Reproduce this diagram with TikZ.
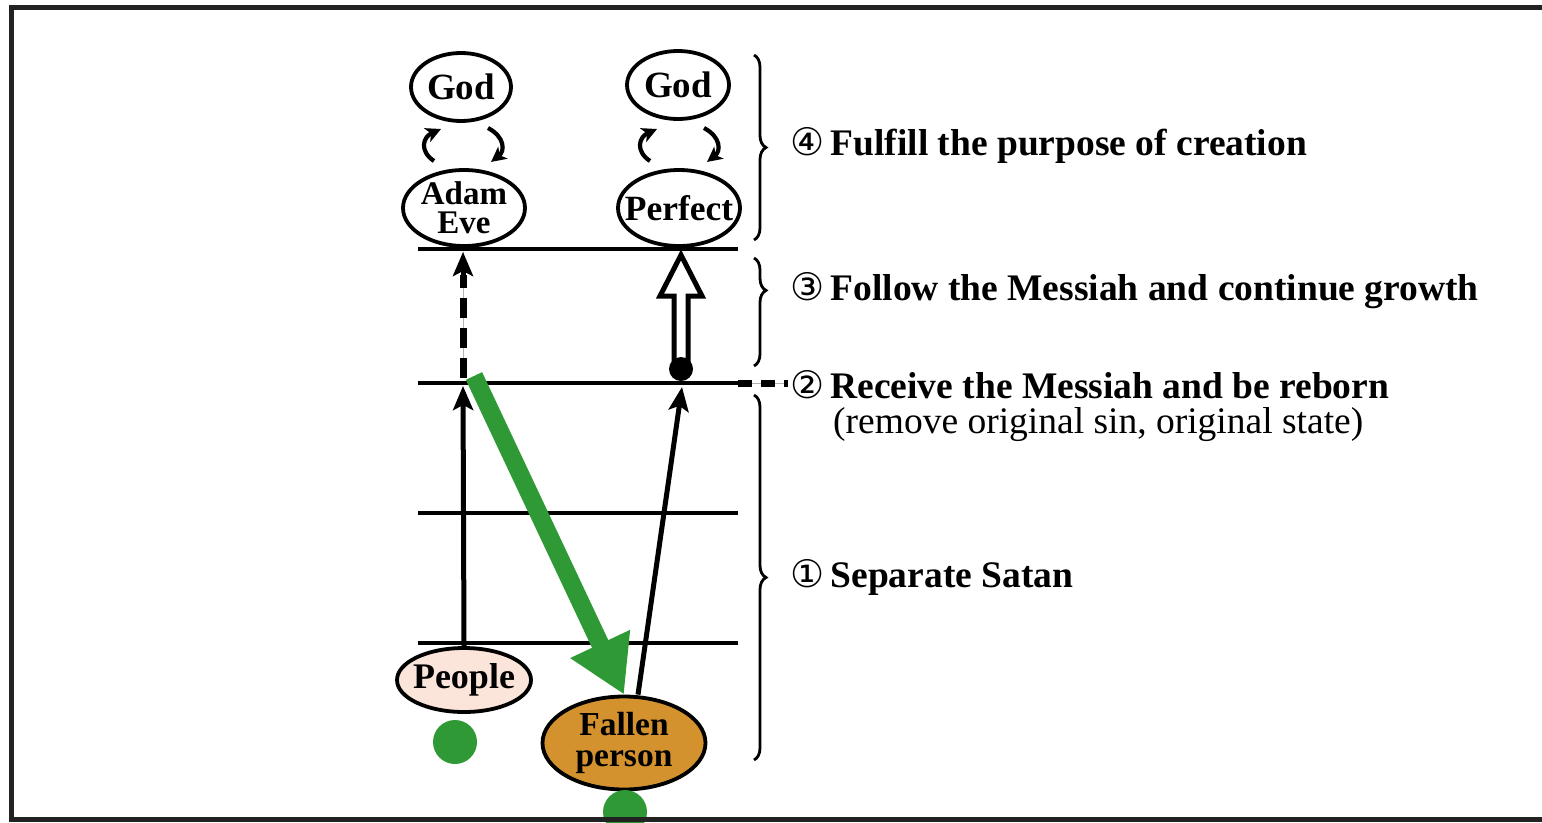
\documentclass[tikz,border=0pt]{standalone}
\usepackage{fontspec}
\setmainfont{Liberation Serif}
\newfontfamily\dejavu{DejaVu Sans}
\usetikzlibrary{arrows.meta,shapes.geometric,decorations.pathreplacing}
\definecolor{frm}{HTML}{222222}
\definecolor{grn}{HTML}{2F9A35}
\definecolor{pink}{HTML}{FBE4DA}
\definecolor{ochre}{HTML}{D4922F}
\newcommand{\cnum}[1]{{\dejavu\fontsize{38}{40}\selectfont #1}}
\newcommand{\fit}[1]{\makebox[60pt][c]{#1}}
\begin{document}
\begin{tikzpicture}[x=1pt,y=-1pt,
  oval/.style={ellipse,draw=black,line width=3.8pt,inner sep=0pt,align=center,font=\fontsize{37}{27}\selectfont\bfseries},
  level/.style={line width=3.4pt,black},
  lbl/.style={anchor=west,inner sep=0pt,font=\fontsize{37.5}{40}\selectfont},
  brc/.style={decorate,decoration={brace,amplitude=12pt,aspect=#1},line width=2.8pt},
  curv/.style={line width=4.2pt,-{Stealth[length=15pt,width=15pt,inset=4pt]}},
  up/.style={line width=5pt,-{Stealth[length=24pt,width=20pt,inset=5pt]}}
]
\useasboundingbox (0,0) rectangle (1542,822);
% frame
\fill[frm] (9,5) rectangle (1542,10);
\fill[frm] (9,5) rectangle (14,822);
\fill[frm] (9,817) rectangle (1542,822);

% level lines
\coordinate (l1a) at (418,249); \coordinate (l1b) at (738,249);
\coordinate (l2a) at (418,383); \coordinate (l2b) at (738,383);
\coordinate (l3a) at (418,513); \coordinate (l3b) at (738,513);
\coordinate (l4a) at (418,643); \coordinate (l4b) at (738,643);
\draw[level] (l1a) -- (l1b);
\draw[level] (l2a) -- (l2b);
\draw[level] (l3a) -- (l3b);
\draw[level] (l4a) -- (l4b);

% ovals
\node[oval,minimum width=100pt,minimum height=68pt] (god1) at (461,87) {\fit{God}};
\node[oval,minimum width=102pt,minimum height=68pt] (god2) at (678,85) {\fit{God}};
\node[oval,minimum width=122pt,minimum height=76pt,font=\fontsize{33}{29}\selectfont\bfseries] (adam) at (464,208) {\fit{Adam}\\\fit{Eve}};
\node[oval,minimum width=122pt,minimum height=76pt,font=\fontsize{35.5}{30}\selectfont\bfseries] (perf) at (679,208) {\fit{Perfect}};
\node[oval,fill=pink,minimum width=134pt,minimum height=64pt,font=\fontsize{36}{30}\selectfont\bfseries] (people) at (464,680) {\fit{People}};
\node[oval,fill=ochre,minimum width=163pt,minimum height=93pt,font=\fontsize{33.5}{31}\selectfont\bfseries] (fallen) at (624,743) {\fit{Fallen}\\\fit{person}};

% curved arrows
\draw[curv] (434,161) .. controls (419,151) and (423,137) .. (441,129);
\draw[curv] (488,128) .. controls (505,137) and (505,151) .. (491,162);
\draw[curv] (650,161) .. controls (635,151) and (639,137) .. (657,129);
\draw[curv] (704,128) .. controls (721,137) and (721,151) .. (707,162);

% left arrows
\coordinate (p2) at (463,386);
\draw[up] (people.north) -- (p2);
\coordinate (d0) at (463,378);
\coordinate (dm) at (463,275);
\coordinate (d1) at (463,252);
\draw[line width=0.8pt,gray!60] (d0) -- (d1);
\draw[line width=7pt,dash pattern=on 20pt off 10pt] (d0) -- (dm);
\draw[up] (dm) -- (d1);

% right arrows
\coordinate (f2) at (682,387);
\draw[up] (fallen.north) ++(14,0) -- (f2);
\coordinate (dot) at (681,369);
\draw[line width=5pt,fill=white,line join=miter]
  (674,368) -- (674,296) -- (660,296) -- (681,255) -- (702,296) -- (688,296) -- (688,368) -- cycle;
\node[circle,fill=black,minimum size=24pt,inner sep=0pt] (dotn) at (dot) {};

% green
\coordinate (g0) at (474,376);
\draw[grn,line width=18pt,-{Triangle[length=56pt,width=62pt]}] (g0) -- (fallen.north);
\fill[grn] (455,742) circle (22pt);
\fill[grn] (625,812) circle (22pt);
\fill[frm] (600,817) rectangle (650,822);

% braces
\draw[brc=0.5] (754,55) -- (754,240);
\draw[brc=0.3] (754,258) -- (754,366);
\draw[brc=0.5] (754,395) -- (754,760);

% dashed connector to 2
\coordinate (c0) at (738,383);
\coordinate (c1) at (788,383);
\draw[line width=0.8pt,gray!60] (c0) -- (c1);
\draw[line width=7pt,dash pattern=on 14pt off 9pt] (c0) -- (c1);

% labels
\node[lbl] (t4) at (790,145) {\cnum{④}\,\textbf{Fulfill the purpose of creation}};
\node[lbl] (t3) at (790,291) {\cnum{③}\,\textbf{Follow the Messiah and continue growth}};
\node[lbl] (t2) at (790,385) {\cnum{②}\,\textbf{Receive the Messiah and be reborn}};
\node[lbl] (t2b) at (833,425) {(remove original sin, original state)};
\node[lbl] (t1) at (790,577) {\cnum{①}\,\textbf{Separate Satan}};
\end{tikzpicture}
\end{document}
